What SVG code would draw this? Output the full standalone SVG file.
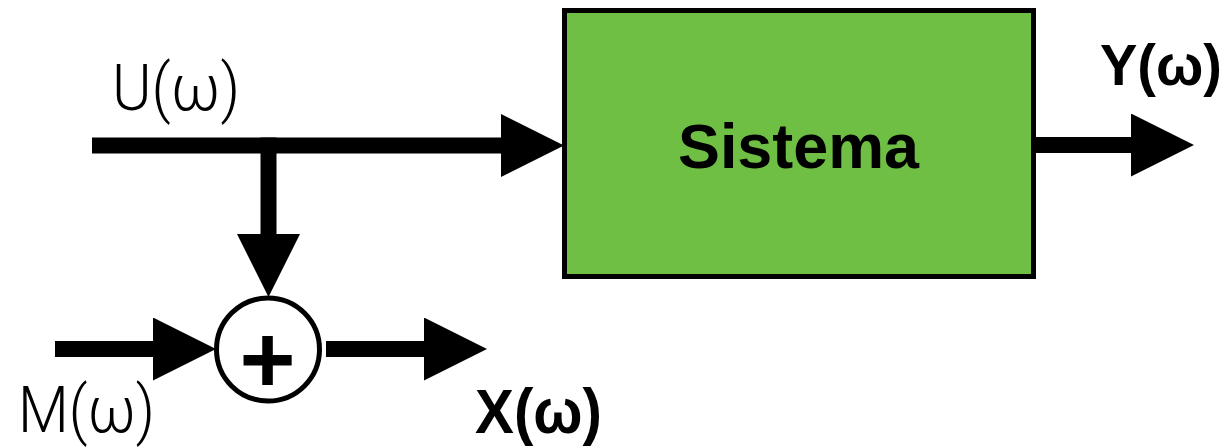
<svg xmlns="http://www.w3.org/2000/svg" width="1228" height="447" viewBox="0 0 1228 447">
  <style>
    .wire { fill: none; stroke: #000; stroke-width: 16; stroke-linecap: butt; marker-end: url(#head); }
    .lbl-light { font-family: Roboto, "Liberation Sans", sans-serif; font-weight: 300; font-size: 64px; fill: #000; }
    .lbl-bold { font-family: "Liberation Sans", Arial, sans-serif; font-weight: bold; font-size: 63px; fill: #000; }
  </style>
  <defs>
    <marker id="head" viewBox="0 0 63 63" markerWidth="63" markerHeight="63" refX="0" refY="31.5" orient="auto" markerUnits="userSpaceOnUse">
      <path d="M0,0 L63,31.5 L0,63 Z" fill="#000"/>
    </marker>
  </defs>
  <rect x="0" y="0" width="1228" height="447" fill="#fff"/>

  <g id="connectors">
    <path class="wire" d="M92,145.5 H501"/>
    <path class="wire" d="M268.5,137.5 V234"/>
    <path class="wire" d="M55,349 H153"/>
    <path class="wire" d="M326,349 H424"/>
    <path class="wire" d="M1036,145 H1131"/>
  </g>

  <g id="sistema">
    <rect x="564.5" y="10.5" width="469" height="266" fill="#6fbf44" stroke="#000" stroke-width="5"/>
    <text class="lbl-bold" x="678" y="168" textLength="241" lengthAdjust="spacingAndGlyphs">Sistema</text>
  </g>

  <g id="sum">
    <circle cx="268" cy="349.5" r="51.5" fill="#fff" stroke="#000" stroke-width="5"/>
    <text class="lbl-bold" x="267.5" y="393" text-anchor="middle" style="font-size:96px">+</text>
  </g>

  <g id="label-u"><text class="lbl-light" x="112" y="110" textLength="128" lengthAdjust="spacingAndGlyphs">U(ω)</text></g>
  <g id="label-m"><text class="lbl-light" x="18" y="432" textLength="137" lengthAdjust="spacingAndGlyphs">M(ω)</text></g>
  <g id="label-x"><text class="lbl-bold" x="475" y="433" textLength="127" lengthAdjust="spacingAndGlyphs">X(ω)</text></g>
  <g id="label-y"><text class="lbl-bold" x="1100" y="85" style="font-size:58px" textLength="122" lengthAdjust="spacingAndGlyphs">Y(ω)</text></g>
</svg>
